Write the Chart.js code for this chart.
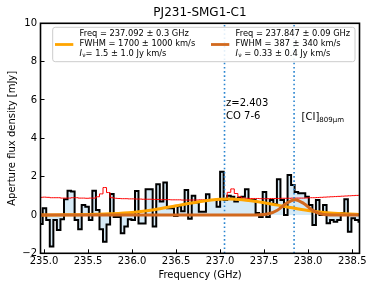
<!DOCTYPE html>
<html>
<head>
<meta charset="utf-8">
<script src="https://cdn.jsdelivr.net/npm/chart.js@4.4.0/dist/chart.umd.min.js"></script>
<style>
  html, body { margin: 0; padding: 0; background: #fff; }
  #wrap { width: 374px; height: 289px; }
</style>
</head>
<body>
<div id="wrap"><canvas id="spec" width="374" height="289"></canvas></div>
<script>
// --- Datos del espectro ---
// centros de canal en GHz
const chanFreq = [
  234.965, 235.005, 235.045, 235.086, 235.126, 235.166, 235.207, 235.247, 235.287, 235.327,
  235.368, 235.408, 235.448, 235.489, 235.529, 235.569, 235.610, 235.650, 235.690, 235.730,
  235.771, 235.811, 235.851, 235.892, 235.932, 235.972, 236.013, 236.053, 236.093, 236.133,
  236.174, 236.214, 236.254, 236.295, 236.335, 236.375, 236.416, 236.456, 236.496, 236.537,
  236.577, 236.617, 236.657, 236.698, 236.738, 236.778, 236.819, 236.859, 236.899, 236.940,
  236.980, 237.020, 237.060, 237.101, 237.141, 237.181, 237.222, 237.262, 237.302, 237.343,
  237.383, 237.423, 237.463, 237.504, 237.544, 237.584, 237.625, 237.665, 237.705, 237.746,
  237.786, 237.826, 237.866, 237.907, 237.947, 237.987, 238.028, 238.068, 238.108, 238.149,
  238.189, 238.229, 238.269, 238.310, 238.350, 238.390, 238.431, 238.471, 238.511, 238.552,
  238.592
];
// flujo de apertura por canal (mJy)
const chanFlux = [
  -0.47, 0.35, -0.26, -1.65, -0.26, -0.78, -0.22, 0.82, 1.27, 1.22,
  -0.26, -0.75, 0.52, 0.43, -0.26, 1.27, 0.26, -0.75, -1.40, -0.50,
  1.10, -0.10, -0.10, -0.96, -0.60, -0.22, -0.26, 1.25, -0.45, -0.45,
  1.34, 1.34, -0.60, 1.60, 0.70, 1.70, 0.35, 0.35, -0.05, 0.45,
  0.20, 1.30, -0.20, 1.00, 0.65, 0.17, 0.17, 1.08, 0.78, 0.78,
  0.43, 2.26, 0.78, 1.00, 0.95, 0.70, 0.90, 0.95, 1.34, 0.78,
  0.78, 0.10, -0.10, 1.20, -0.10, 0.78, 0.57, 1.86, 0.78, 0.00,
  2.09, 1.57, 1.20, 1.13, 1.13, 0.95, 0.52, -0.52, 0.78, 0.00,
  0.52, -0.43, -0.26, -0.35, -0.26, 0.10, 0.82, -0.87, -0.17, -0.26,
  -0.35
];
// ruido rms por canal (línea roja)
const chanNoise = [
  0.92, 0.93, 0.92, 0.90, 0.90, 0.90, 0.88, 0.88, 0.88, 0.90,
  0.90, 0.88, 0.88, 0.87, 0.88, 0.88, 0.95, 1.10, 1.43, 1.17,
  0.90, 0.87, 0.86, 0.85, 0.85, 0.84, 0.84, 0.83, 0.83, 0.82,
  0.82, 0.82, 0.81, 0.81, 0.80, 0.80, 0.80, 0.79, 0.79, 0.79,
  0.78, 0.78, 0.78, 0.78, 0.78, 0.79, 0.79, 0.80, 0.80, 0.80,
  0.80, 0.82, 0.83, 1.18, 1.36, 1.12, 0.95, 0.88, 0.87, 0.86,
  0.86, 0.86, 0.85, 0.85, 0.85, 0.86, 0.86, 0.86, 0.87, 0.87,
  0.87, 0.88, 0.88, 0.88, 0.88, 0.89, 0.90, 0.90, 0.91, 0.92,
  0.93, 0.94, 0.95, 0.96, 0.97, 0.98, 0.99, 1.00, 1.01, 1.02,
  1.03
];

// ajuste gaussiano ancho (naranja) y estrecho (marrón)
const broadFreq = [234.96, 235.25, 235.5, 235.75, 236.0, 236.25, 236.5, 236.75, 237.0, 237.1, 237.25, 237.5, 237.75, 238.0, 238.25, 238.583];
const broadFlux = [0.0, 0.01, 0.02, 0.06, 0.13, 0.27, 0.48, 0.68, 0.82, 0.83, 0.80, 0.64, 0.43, 0.23, 0.10, 0.03];
const narrowFreq = [234.96, 237.4, 237.55, 237.65, 237.75, 237.85, 237.95, 238.05, 238.15, 238.3, 238.583];
const narrowFlux = [0.0, 0.0, 0.06, 0.25, 0.60, 0.80, 0.60, 0.24, 0.05, 0.0, 0.0];

// líneas verticales (CO 7-6 y [CI]) y textos
const lineFreq = [237.05, 237.84];
const xTicks = [235.0, 235.5, 236.0, 236.5, 237.0, 237.5, 238.0, 238.5];
const yTicks = [-2, 0, 2, 4, 6, 8, 10];
const legendColors = ['#ffa500', '#d2691e'];
const legendFreq = ['Freq = 237.092 \u00b1 0.3 GHz', 'Freq = 237.847 \u00b1 0.09 GHz'];
const legendFwhm = ['FWHM = 1700 \u00b1 1000 km/s', 'FWHM = 387 \u00b1 340 km/s'];
const legendFlux = ['= 1.5 \u00b1 1.0 Jy km/s', ' = 0.33 \u00b1 0.4 Jy km/s'];

const FONT = "'DejaVu Sans', sans-serif";
Chart.defaults.font.family = FONT;
Chart.defaults.color = '#000';

const toXY = (xs, ys) => xs.map((x, i) => ({ x: x, y: ys[i] }));

// Marco, título, anotaciones y leyenda
const decor = {
  id: 'decor',
  afterDatasetsDraw(chart) {
    const { ctx, chartArea: a, scales } = chart;
    const sx = scales.x, sy = scales.y;
    ctx.save();
    ctx.strokeStyle = '#000';
    ctx.lineWidth = 1.6;
    ctx.strokeRect(a.left, a.top, a.right - a.left, a.bottom - a.top);

    // título
    ctx.fillStyle = '#000';
    ctx.textAlign = 'center';
    ctx.textBaseline = 'middle';
    ctx.font = '12px ' + FONT;
    ctx.fillText('PJ231-SMG1-C1', (a.left + a.right) / 2, 13);

    // anotaciones de líneas
    ctx.textAlign = 'left';
    ctx.textBaseline = 'alphabetic';
    ctx.font = '10px ' + FONT;
    const zx = sx.getPixelForValue(lineFreq[0]) + 1.5;
    ctx.fillText('z=2.403', zx, sy.getPixelForValue(5.85) + 3.5);
    ctx.fillText('CO 7-6', zx, sy.getPixelForValue(5.2) + 3.5);
    const cx = sx.getPixelForValue(lineFreq[1]) + 7.5;
    const cy = sy.getPixelForValue(5.15) + 3.5;
    ctx.fillText('[CI]', cx, cy);
    const w = ctx.measureText('[CI]').width;
    ctx.font = '7px ' + FONT;
    ctx.fillText('809\u03bcm', cx + w, cy + 2.5);

    // leyenda
    const lx = 52.7, ly = 27.3, lw = 302.3, lh = 34.4;
    ctx.beginPath();
    ctx.roundRect(lx, ly, lw, lh, 2.5);
    ctx.fillStyle = 'rgba(255,255,255,0.88)';
    ctx.fill();
    ctx.strokeStyle = '#cccccc';
    ctx.lineWidth = 1;
    ctx.stroke();

    const colX = [55, 211];
    for (let i = 0; i < 2; i++) {
      ctx.strokeStyle = legendColors[i];
      ctx.lineWidth = 2.8;
      ctx.beginPath();
      ctx.moveTo(colX[i], 44.5);
      ctx.lineTo(colX[i] + 18.3, 44.5);
      ctx.stroke();

      const tx = colX[i] + 24.5;
      ctx.fillStyle = '#000';
      ctx.textBaseline = 'middle';
      ctx.font = '8.3px ' + FONT;
      ctx.fillText(legendFreq[i], tx, 34.3);
      ctx.fillText(legendFwhm[i], tx, 44);
      ctx.font = 'italic 8.3px ' + FONT;
      ctx.fillText('I', tx, 53.7);
      let off = ctx.measureText('I').width + 0.3;
      ctx.font = '6px ' + FONT;
      ctx.fillText('\u03bd', tx + off, 55.5);
      off += ctx.measureText('\u03bd').width;
      ctx.font = '8.3px ' + FONT;
      ctx.fillText(legendFlux[i], tx + off, 53.7);
    }
    ctx.restore();
  }
};

const vline = (f) => ({
  data: [{ x: f, y: -2 }, { x: f, y: 10 }],
  borderColor: '#2a85d0',
  borderWidth: 1.6,
  borderDash: [1.6, 2.6],
  pointRadius: 0,
  order: 3
});

new Chart(document.getElementById('spec'), {
  type: 'line',
  data: {
    datasets: [
      { data: toXY(narrowFreq, narrowFlux), borderColor: '#d2691e', borderWidth: 3,
        cubicInterpolationMode: 'monotone', pointRadius: 0, order: 1 },
      { data: toXY(broadFreq, broadFlux), borderColor: '#ffa500', borderWidth: 3,
        cubicInterpolationMode: 'monotone', pointRadius: 0, order: 2 },
      vline(lineFreq[0]),
      vline(lineFreq[1]),
      { data: toXY(chanFreq, chanNoise), borderColor: '#ff0000', borderWidth: 1,
        stepped: 'middle', pointRadius: 0, order: 4 },
      { data: toXY(chanFreq, chanFlux), borderColor: '#000', borderWidth: 2,
        backgroundColor: '#d6eaf6', fill: 'origin', stepped: 'middle', pointRadius: 0, order: 5 }
    ]
  },
  options: {
    responsive: false,
    animation: false,
    layout: { padding: { top: 23.3, right: 14.5, left: 0, bottom: 0 } },
    plugins: { legend: { display: false }, tooltip: { enabled: false } },
    scales: {
      x: {
        type: 'linear', min: 234.96, max: 238.583,
        afterBuildTicks: s => { s.ticks = xTicks.map(v => ({ value: v })); },
        afterFit: s => { s.height = 35.7; },
        grid: { drawOnChartArea: false, tickLength: -4, color: '#000' },
        border: { display: false },
        ticks: { padding: 6, autoSkip: false, maxRotation: 0, font: { size: 10 }, callback: v => v.toFixed(1) },
        title: { display: true, text: 'Frequency (GHz)', font: { size: 10 }, padding: { top: 0, bottom: 7.5 } }
      },
      y: {
        min: -2, max: 10,
        afterBuildTicks: s => { s.ticks = yTicks.map(v => ({ value: v })); },
        afterFit: s => { s.width = 40.5; },
        grid: { drawOnChartArea: false, tickLength: -4, color: '#000' },
        border: { display: false },
        ticks: { padding: 7.5, font: { size: 10 }, callback: v => v < 0 ? '\u2212' + Math.abs(v) : String(v) },
        title: { display: true, text: 'Aperture flux density [mJy]', font: { size: 10 }, padding: { top: 6, bottom: 0 } }
      }
    }
  },
  plugins: [decor]
});
</script>
</body>
</html>
